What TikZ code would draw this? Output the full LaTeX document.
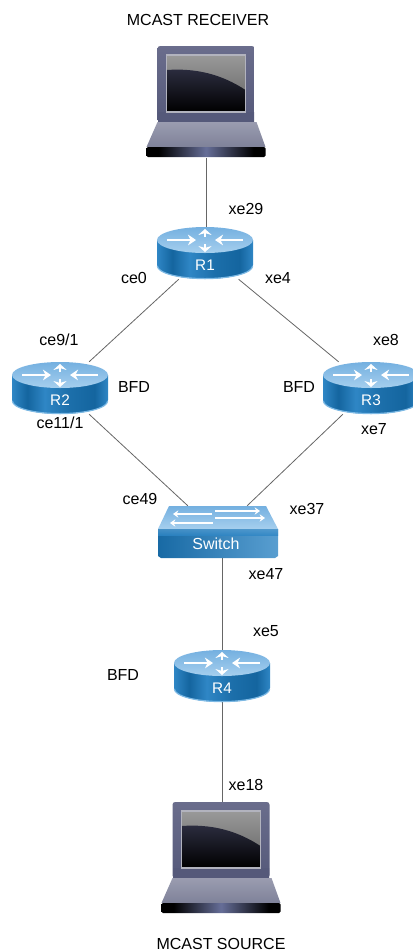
\documentclass[tikz,border=0pt]{standalone}
\usepackage{xcolor}
\usepackage{fontspec}
\setmainfont{Liberation Sans}
\usetikzlibrary{arrows.meta}
\usetikzlibrary{positioning}
\definecolor{routerlight}{HTML}{2F86C5}
\definecolor{routerdark}{HTML}{14659F}
\definecolor{routerrim}{HTML}{7DB9E4}
\definecolor{routertop}{HTML}{74B0E0}
\definecolor{routertopb}{HTML}{A6CFEE}
\definecolor{lidcol}{HTML}{55597A}
\definecolor{lidtop}{HTML}{6A6D8C}
\definecolor{lidglow}{HTML}{666E98}
\definecolor{framecol}{HTML}{B2B3BE}
\definecolor{basetop}{HTML}{9A9CB0}
\definecolor{basebot}{HTML}{7F8299}
\definecolor{glasstop}{HTML}{2C2D40}
\pgfdeclarehorizontalshading{routerside}{100bp}{color(0bp)=(routerlight); color(25bp)=(routerlight); color(33bp)=(routerdark); color(42bp)=(routerlight); color(55bp)=(routerdark!70!routerlight); color(68bp)=(routerdark); color(75bp)=(routerlight); color(100bp)=(routerlight)}
\pgfdeclarehorizontalshading{stripside}{100bp}{color(0bp)=(black); color(30bp)=(black); color(50bp)=(lidglow); color(70bp)=(black); color(100bp)=(black)}
\tikzset{
    routerbox/.style = {rectangle, inner sep=0pt, minimum width=72pt, minimum height=39pt},
    switchbox/.style = {rectangle, inner sep=0pt, minimum width=90pt, minimum height=39pt},
    laptopbox/.style = {rectangle, inner sep=0pt, minimum width=88.5pt, minimum height=83.25pt},
    portlbl/.style = {inner sep=0pt, font=\fontsize{12}{14}\selectfont, text=black},
    devlbl/.style = {inner sep=0pt, text=white, font=\fontsize{11.5}{13}\selectfont},
    swlbl/.style = {inner sep=0pt, text=white, font=\fontsize{12}{14}\selectfont},
    link/.style = {-, line width=0.6pt, black!60},
    sidearrow/.style = {-{Stealth[length=6pt,width=8pt]}, white, line width=1.1pt},
    uparrow/.style = {-{Stealth[length=4.5pt,width=10pt]}, white, line width=2pt},
    thinarrow/.style = {-{Stealth[length=4pt,width=5.5pt]}, white, line width=0.9pt},
    router/.pic = {
        \path[shading=routerside] (-48,-13) -- (-48,12) arc[start angle=180,end angle=0,x radius=48,y radius=14] -- (48,-13) -- cycle;
        \draw[routerrim, line width=0.9pt] (-47.6,13) arc[start angle=180,end angle=0,x radius=47.6,y radius=12.6];
        \path[top color=routertop, bottom color=routertopb] (0,-13) ellipse[x radius=48, y radius=13];
        \draw[sidearrow] (-38,-13) -- (-9,-13);
        \draw[sidearrow] (38,-13) -- (10,-13);
        \draw[uparrow] (0,-16) -- (0,-24);
        \draw[uparrow] (0,-9) -- (0,-1);
        \node[devlbl] (lbl) at (0,12) {#1};
    },
    switch/.pic = {
        \path[top color=routertop, bottom color=routertopb] (-49,-26) -- (48,-26) -- (60,-3) -- (-60,-3) -- cycle;
        \path[left color=routerdark!85!routerlight, right color=routerlight!80!white] (-60,-3) -- (60,-3) -- (60,24) -- (57,26) -- (-57,26) -- (-60,24) -- cycle;
        \path[top color=routerlight!85!white, bottom color=routerlight, opacity=0.8] (-60,-3) -- (60,-3) -- (60,3) -- (-60,3) -- cycle;
        \draw[thinarrow] (-6,-18) -- (-45,-18);
        \draw[thinarrow] (-3,-21) -- (42,-21);
        \draw[thinarrow] (-5,-9) -- (-48,-9);
        \draw[thinarrow] (-3,-14) -- (47,-14);
        \node[swlbl] (lbl) at (-2,12) {#1};
    },
    laptop/.pic = {
        \path[rounded corners=2pt, top color=lidtop, bottom color=lidcol] (-48.5,-56) rectangle (48.5,20);
        \path[left color=lidcol, middle color=lidglow, right color=lidcol] (-48,10) rectangle (48,20);
        \path[top color=black!40, bottom color=black!62] (-39.5,-47) rectangle (39.5,10);
        \path[top color=glasstop, bottom color=black] (-39.5,-32) .. controls (-10,-34) and (15,-28) .. (39.5,-12) -- (39.5,10) -- (-39.5,10) -- cycle;
        \draw[framecol, line width=0.8pt] (-39.5,-47) rectangle (39.5,10);
        \path[top color=basetop, bottom color=basebot] (-48.5,20) -- (50.5,20) -- (59.5,45) -- (-59.5,45) -- cycle;
        \path[rounded corners=1pt, shading=stripside] (-59.5,45) rectangle (59.5,55);
    },
}
\begin{document}
\begin{tikzpicture}[x=0.75pt,y=-0.75pt]
\useasboundingbox (0,0) rectangle (412,951);
\node[laptopbox] at (206,102) (rx) {};
\node[routerbox] at (205,253) (r1) {};
\node[routerbox] at (60,388) (r2) {};
\node[routerbox] at (371,388) (r3) {};
\node[switchbox] at (218,532) (sw) {};
\node[routerbox] at (222,676) (r4) {};
\node[laptopbox] at (221,858) (tx) {};
%
\draw[link] (rx.south) -- (r1.north -| rx.south);
\draw[link] (r1.225) -- (r2.42);
\draw[link] (r1.322) -- (r3.141);
\draw[link] (r2.318) -- (sw.139);
\draw[link] (r3.223) -- (sw.42);
\draw[link] (sw.south -| r4.north) -- (r4.north);
\draw[link] (r4.south) -- (tx.north -| r4.south);
%
\pic at (rx) {laptop};
\pic at (r1) {router=R1};
\pic at (r2) {router=R2};
\pic at (r3) {router=R3};
\pic at (sw) {switch=Switch};
\pic at (r4) {router=R4};
\pic at (tx) {laptop};
%
\node[portlbl] at (198,20) (rxname) {MCAST RECEIVER};
\node[portlbl] at (221,944) (txname) {MCAST SOURCE};
\node[portlbl] at (246,209) (p1) {xe29};
\node[portlbl] at (134,278) (p2) {ce0};
\node[portlbl] at (278,278) (p3) {xe4};
\node[portlbl] at (59,340) (p4) {ce9/1};
\node[portlbl] at (134,387) (p5) {BFD};
\node[portlbl] at (60,423) (p6) {ce11/1};
\node[portlbl] at (386,340) (p7) {xe8};
\node[portlbl] at (299,387) (p8) {BFD};
\node[portlbl] at (374,429) (p9) {xe7};
\node[portlbl] at (140,499) (p10) {ce49};
\node[portlbl] at (307,509) (p11) {xe37};
\node[portlbl] at (266,574) (p12) {xe47};
\node[portlbl] at (266,631) (p13) {xe5};
\node[portlbl] at (123,675) (p14) {BFD};
\node[portlbl] at (246,785) (p15) {xe18};
\end{tikzpicture}
\end{document}
